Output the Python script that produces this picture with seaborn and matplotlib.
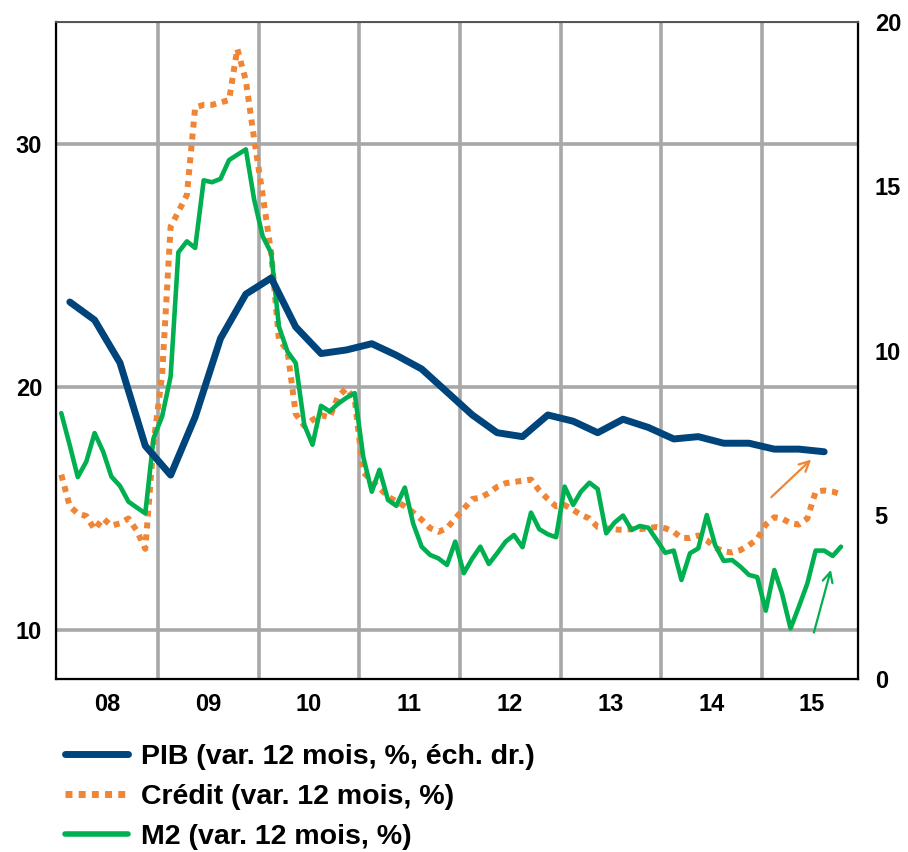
import numpy as np
import pandas as pd
import seaborn as sns
import matplotlib.pyplot as plt
from matplotlib.lines import Line2D

# données mensuelles (janv. 2008 -> oct. 2015)
mois = pd.date_range("2008-01-01", periods=94, freq="MS") + pd.Timedelta(days=14)
credit = [16.4, 15.1, 14.8, 14.7, 14.15, 14.6, 14.3, 14.4, 14.6, 14.1,
          13.35, 17.7, 20.5, 26.6, 27.2, 27.9, 31.5, 31.6, 31.6, 31.7,
          31.8, 33.9, 32.6, 30.2, 27.9, 25.5, 21.95, 21.5, 18.9, 18.4,
          18.65, 18.85, 18.75, 19.6, 19.95, 19.5, 16.5, 16.15, 15.85, 15.5,
          15.3, 15.1, 14.85, 14.55, 14.2, 14.05, 14.2, 14.6, 15.0, 15.4,
          15.45, 15.65, 15.9, 16.05, 16.1, 16.15, 16.2, 15.75, 15.4, 15.1,
          15.15, 14.95, 14.75, 14.6, 14.25, 14.2, 14.15, 14.13, 14.16, 14.16,
          14.2, 14.25, 14.2, 14.05, 13.8, 13.8, 13.9, 13.7, 13.4, 13.25,
          13.2, 13.3, 13.5, 13.75, 14.35, 14.65, 14.6, 14.4, 14.35, 14.6,
          15.7, 15.75, 15.7, 15.6]
m2 = [18.93, 17.6, 16.3, 16.94, 18.11, 17.35, 16.32, 15.94, 15.29, 15.05,
      14.81, 17.9, 18.79, 20.44, 25.54, 25.99, 25.72, 28.5, 28.42, 28.56,
      29.33, 29.55, 29.77, 27.71, 26.2, 25.51, 22.49, 21.46, 20.99, 18.45,
      17.63, 19.23, 19.0, 19.31, 19.56, 19.75, 17.14, 15.7, 16.6, 15.36,
      15.12, 15.87, 14.4, 13.44, 13.1, 12.96, 12.69, 13.65, 12.35, 12.96,
      13.44, 12.73, 13.17, 13.65, 13.92, 13.42, 14.84, 14.16, 13.95, 13.83,
      15.91, 15.16, 15.7, 16.07, 15.81, 13.99, 14.43, 14.72, 14.13, 14.29,
      14.22, 13.72, 13.19, 13.28, 12.07, 13.17, 13.37, 14.74, 13.51, 12.86,
      12.89, 12.62, 12.28, 12.19, 10.81, 12.48, 11.52, 10.08, 10.97, 11.93,
      13.28, 13.28, 13.06, 13.44]

# PIB trimestriel (T1 2008 -> T3 2015), échelle de droite
trimestres = pd.date_range("2008-02-01", periods=31, freq="3MS") + pd.Timedelta(days=14)
pib = [11.48, 10.93, 9.63, 7.10, 6.21, 7.98, 10.37, 11.72, 12.21, 10.72,
       9.91, 10.02, 10.21, 9.86, 9.44, 8.74, 8.04, 7.50, 7.38, 8.04,
       7.85, 7.50, 7.91, 7.66, 7.31, 7.38, 7.18, 7.18, 7.00, 7.00, 6.92]

annees = ["08", "09", "10", "11", "12", "13", "14", "15"]

# flèches (début, fin) sur l'échelle de gauche
fleche_credit = [("2015-01-28", 15.4), ("2015-07-06", 17.1)]
fleche_m2 = [("2015-07-06", 9.8), ("2015-09-11", 12.6)]

BLEU = "#00447C"
ORANGE = "#F08535"
VERT = "#00B050"

sns.set_style("white")
plt.rcParams["font.family"] = ["Liberation Sans", "DejaVu Sans"]
plt.rcParams["font.weight"] = "bold"
plt.rcParams["text.color"] = "black"
plt.rcParams["xtick.color"] = "black"
plt.rcParams["ytick.color"] = "black"

fig = plt.figure(figsize=(9.08, 8.52), dpi=100)
ax = fig.add_axes([0.0617, 0.203, 0.8833, 0.771])
ax2 = ax.twinx()

df = pd.DataFrame({"date": mois, "credit": credit, "m2": m2})
df_pib = pd.DataFrame({"date": trimestres, "pib": pib})

sns.lineplot(data=df, x="date", y="credit", ax=ax, color=ORANGE, lw=4.3,
             linestyle=(0, (1, 1)), zorder=3)
sns.lineplot(data=df, x="date", y="m2", ax=ax, color=VERT, lw=3.3, zorder=4)
sns.lineplot(data=df_pib, x="date", y="pib", ax=ax2, color=BLEU, lw=5, zorder=5)
for l in ax.lines:
    l.set_dash_capstyle("butt")

ax.set_xlim(pd.Timestamp("2007-12-27"), pd.Timestamp("2015-12-16"))
ax.set_ylim(8, 35)
ax2.set_ylim(0, 20)
ax.set_yticks([10, 20, 30])
ax2.set_yticks([0, 5, 10, 15, 20])

debuts = [pd.Timestamp(f"20{a}-01-01") for a in annees]
milieux = [pd.Timestamp(f"20{a}-07-01") for a in annees]
ax.set_xticks(debuts[1:])
ax.set_xticklabels([])
ax.set_xticks(milieux, minor=True)
ax.set_xticklabels(annees, minor=True)

ax.grid(True, which="major", color="#a8a8a8", lw=2.6)
ax2.grid(False)
ax.set_xlabel("")
ax.set_ylabel("")
ax2.set_ylabel("")

ax.tick_params(axis="both", which="both", length=0)
ax.tick_params(axis="y", labelsize=17, pad=10)
ax.tick_params(axis="x", which="minor", labelsize=17, pad=10)
ax2.tick_params(axis="y", length=0, labelsize=17, pad=12)

for s in ["left", "bottom", "right"]:
    ax2.spines[s].set_color("black")
    ax2.spines[s].set_linewidth(1.6)
ax2.spines["top"].set_color("#555555")
ax2.spines["top"].set_linewidth(1.4)
ax2.set_zorder(ax.get_zorder() + 1)
ax2.patch.set_visible(False)

for (d0, y0), (d1, y1), c in [(*fleche_credit, ORANGE), (*fleche_m2, VERT)]:
    ax.annotate("", xy=(pd.Timestamp(d1), y1), xytext=(pd.Timestamp(d0), y0),
                arrowprops=dict(arrowstyle="->", color=c, lw=1.6, mutation_scale=18),
                zorder=6)

poignees = [Line2D([], [], color=BLEU, lw=5),
            Line2D([], [], color=ORANGE, lw=5, linestyle=(0, (1, 0.9))),
            Line2D([], [], color=VERT, lw=4)]
textes = ["PIB (var. 12 mois, %, éch. dr.)", "Crédit (var. 12 mois, %)",
          "M2 (var. 12 mois, %)"]
fig.legend(poignees, textes, loc="upper left", bbox_to_anchor=(0.072, 0.127),
           frameon=False, fontsize=20.5, handlelength=2.2, handletextpad=0.45,
           labelspacing=0.5, borderpad=0, borderaxespad=0)

fig.savefig("out.png", dpi=100)
